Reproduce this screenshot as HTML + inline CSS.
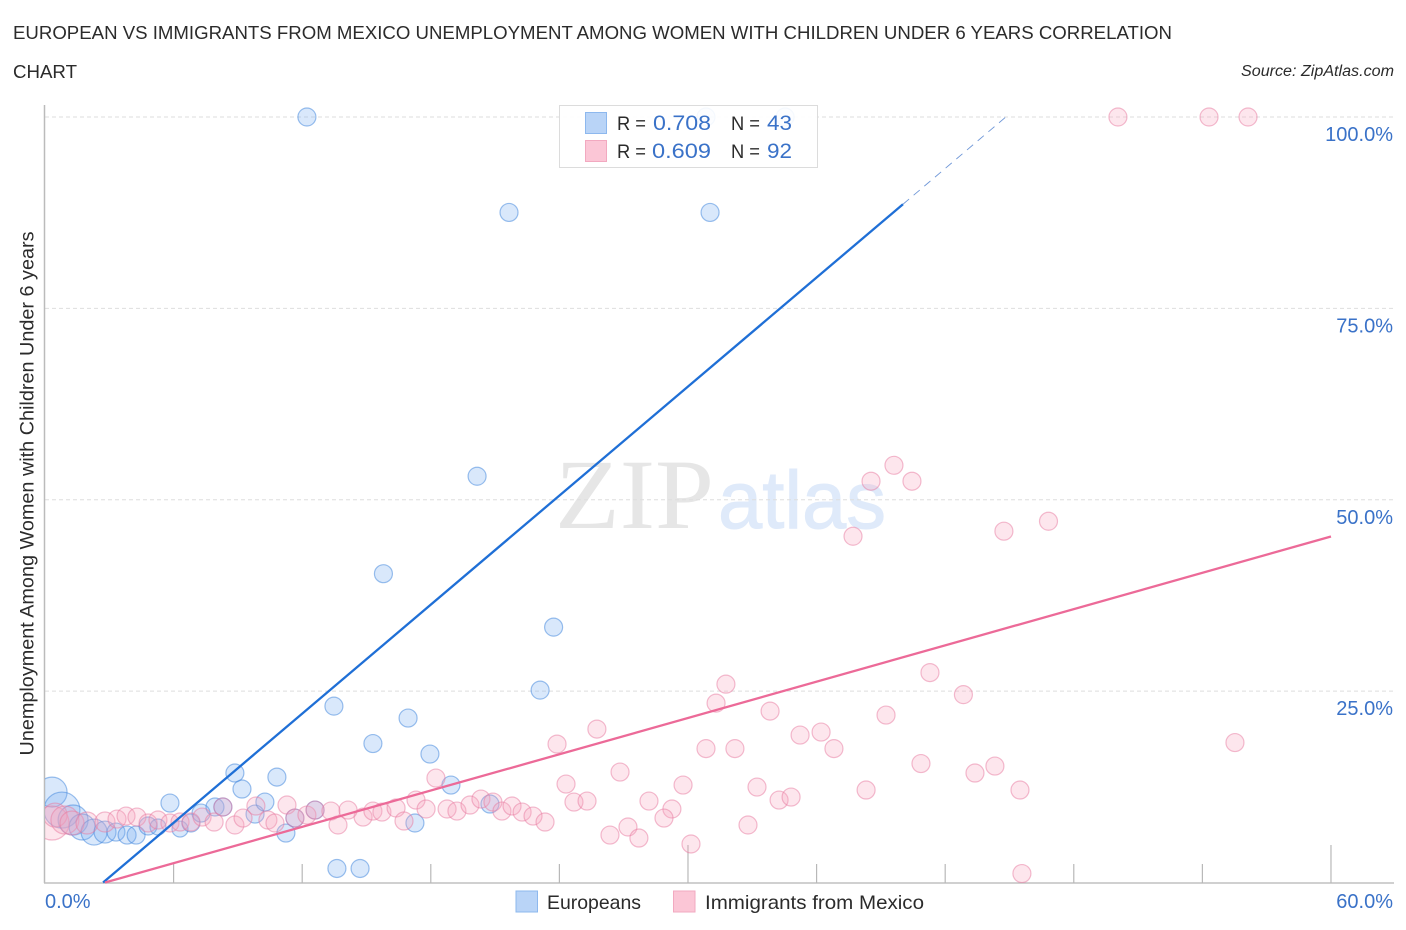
<!DOCTYPE html>
<html lang="en">
<head>
<meta charset="utf-8">
<title>European vs Immigrants from Mexico Unemployment Chart</title>
<style>
html,body{margin:0;padding:0;background:#fff;width:1406px;height:930px;overflow:hidden}
svg{display:block;font-family:"Liberation Sans",sans-serif}
</style>
</head>
<body>
<svg id="chart" width="1406" height="930" viewBox="0 0 1406 930" xmlns="http://www.w3.org/2000/svg">
  <defs>
    <clipPath id="plot-clip"><rect x="45" y="100" width="1349" height="783"/></clipPath>
  </defs>
  <rect x="0" y="0" width="1406" height="930" fill="#fff"/>
  <text x="13" y="39" font-size="18.5" fill="#2b2b2b" textLength="1159" lengthAdjust="spacingAndGlyphs">EUROPEAN VS IMMIGRANTS FROM MEXICO UNEMPLOYMENT AMONG WOMEN WITH CHILDREN UNDER 6 YEARS CORRELATION</text>
  <text x="13" y="78" font-size="18.5" fill="#2b2b2b" textLength="64" lengthAdjust="spacingAndGlyphs">CHART</text>
  <text x="1394" y="76" font-size="15.5" font-style="italic" fill="#2b2b2b" text-anchor="end" textLength="153" lengthAdjust="spacingAndGlyphs">Source: ZipAtlas.com</text>

  <g>
    <text x="555" y="528" font-family="'Liberation Serif',serif" font-size="100" fill="#e6e6e6" textLength="159" lengthAdjust="spacingAndGlyphs">ZIP</text>
    <text x="718" y="528" font-size="82" fill="#dfeafa" stroke="#dfeafa" stroke-width="1" textLength="168" lengthAdjust="spacingAndGlyphs">atlas</text>
  </g>

  <g id="grid"></g>
  <g id="axes"></g>
  <g clip-path="url(#plot-clip)">
    <g id="points-europeans"></g>
    <g id="points-mexico"></g>
  </g>
  <g id="trends"></g>
  <g id="labels"></g>

  <text transform="translate(33.5,493.5) rotate(-90)" font-size="19" fill="#2b2b2b" text-anchor="middle" textLength="524" lengthAdjust="spacingAndGlyphs">Unemployment Among Women with Children Under 6 years</text>

  <g>
    <rect x="559.5" y="105.5" width="258" height="62" fill="#fff" fill-opacity="0.9" stroke="#dcdcdc" stroke-width="1"/>
    <rect x="585.5" y="112.5" width="21" height="21" fill="#b9d4f7" stroke="#8db8ee" stroke-width="1"/>
    <rect x="585.5" y="140.5" width="21" height="21" fill="#fbc6d6" stroke="#f2a9c0" stroke-width="1"/>
    <text x="617" y="130" font-size="19.5" fill="#2b2b2b" textLength="29" lengthAdjust="spacingAndGlyphs">R =</text>
    <text x="653" y="130" font-size="21" fill="#3a72c8" textLength="58" lengthAdjust="spacingAndGlyphs">0.708</text>
    <text x="731" y="130" font-size="19.5" fill="#2b2b2b" textLength="29" lengthAdjust="spacingAndGlyphs">N =</text>
    <text x="767" y="130" font-size="21" fill="#3a72c8" textLength="25" lengthAdjust="spacingAndGlyphs">43</text>
    <text x="617" y="158" font-size="19.5" fill="#2b2b2b" textLength="29" lengthAdjust="spacingAndGlyphs">R =</text>
    <text x="652" y="158" font-size="21" fill="#3a72c8" textLength="59" lengthAdjust="spacingAndGlyphs">0.609</text>
    <text x="731" y="158" font-size="19.5" fill="#2b2b2b" textLength="29" lengthAdjust="spacingAndGlyphs">N =</text>
    <text x="767" y="158" font-size="21" fill="#3a72c8" textLength="25" lengthAdjust="spacingAndGlyphs">92</text>
  </g>

  <g>
    <g>
      <rect x="516" y="891" width="21.5" height="21" fill="#b9d4f7" stroke="#8db8ee" stroke-width="1"/>
      <text x="547" y="909" font-size="19.5" fill="#2b2b2b" textLength="94" lengthAdjust="spacingAndGlyphs">Europeans</text>
    </g>
    <g>
      <rect x="673.5" y="891" width="21.5" height="21" fill="#fbc6d6" stroke="#f2a9c0" stroke-width="1"/>
      <text x="705" y="909" font-size="19.5" fill="#2b2b2b" textLength="219" lengthAdjust="spacingAndGlyphs">Immigrants from Mexico</text>
    </g>
  </g>
</svg>
<script>
var europeansX = [12.22,30.84,34.53,21.65,31.03,20.16,15.79,23.73,23.10,13.48,16.94,15.30,17.96,18.94,20.76,17.26,14.70,13.62,0.33,0.79,1.31,1.73,2.29,2.80,3.31,3.83,4.25,4.81,5.27,5.83,6.30,6.81,7.28,7.93,8.30,8.86,9.19,9.80,10.26,10.82,11.24,11.66,12.60];
var europeansY = [100,100,100,87.53,87.53,53.07,40.34,33.36,25.13,23.04,21.48,18.15,16.78,12.73,10.25,7.77,1.83,1.83,11.81,9.46,8.16,7.25,6.59,6.59,6.59,6.20,6.20,7.38,7.25,10.38,6.98,7.77,9.07,9.86,9.86,14.30,12.21,8.94,10.51,13.77,6.46,8.42,9.46];
var europeansSize = [9,9,9,9,9,9,9,9,9,9,9,9,9,9,9,9,9,9,15,18,15,13,13,11,9,9,9,9,8,9,8,9,9,9,9,9,9,9,9,9,9,9,9];

var mexicoX = [50.06,54.31,56.13,39.61,38.54,40.45,37.70,44.74,46.82,41.29,42.85,31.77,31.31,33.83,39.24,25.75,36.21,35.23,23.89,30.84,32.19,36.81,55.52,40.87,44.32,43.39,26.83,24.31,29.77,33.22,45.49,38.31,34.25,34.81,24.68,25.29,28.18,29.25,28.88,26.36,27.20,27.71,30.14,32.80,45.58,14.84,15.30,15.72,16.38,16.75,17.31,17.78,18.24,18.76,19.22,19.83,20.34,20.90,21.32,21.79,22.26,22.77,23.33,0.33,0.47,0.93,1.26,1.96,2.80,3.36,3.78,4.29,4.81,5.27,5.83,6.30,6.81,7.33,7.89,8.30,8.86,9.24,9.84,10.40,10.73,11.29,11.66,12.22,12.60,13.34,13.67,14.14];
var mexicoY = [100,100,100,54.50,52.42,52.42,45.23,45.89,47.19,27.42,24.54,25.91,23.43,22.39,21.87,20.04,19.65,19.26,18.08,17.49,17.49,17.49,18.28,15.54,15.21,14.30,14.43,12.86,12.73,12.47,12.08,12.08,10.77,11.16,10.51,10.64,10.64,9.60,8.42,6.20,7.25,5.81,5.03,7.51,1.17,8.55,9.33,9.20,9.73,8.03,10.77,9.60,13.64,9.60,9.33,10.12,10.90,10.51,9.33,9.99,9.20,8.68,7.90,7.77,8.81,8.16,7.77,7.77,7.90,8.29,8.68,8.55,7.77,8.16,7.77,7.90,7.90,8.55,7.90,9.86,7.51,8.42,9.99,8.16,7.77,10.12,8.42,8.81,9.46,9.33,7.51,9.46];
var mexicoSize = [9,9,9,9,9,9,9,9,9,9,9,9,9,9,9,9,9,9,9,9,9,9,9,9,9,9,9,9,9,9,9,9,9,9,9,9,9,9,9,9,9,9,9,9,9,9,9,9,9,9,9,9,9,9,9,9,9,9,9,9,9,9,9,17,12,14,12,11,10,9,9,9,9,9,9,9,9,9,9,9,9,9,9,9,9,9,9,9,9,9,9,9];

var europeansTrendX = [2.71,40.03];
var europeansTrendY = [0,88.6];
var europeansExtrapolatedX = [40.03,44.83];
var europeansExtrapolatedY = [88.6,100];
var mexicoTrendX = [2.8,60];
var mexicoTrendY = [0,45.2];

var xTickValues = [0,6,12,18,24,30,36,42,48,54,60];
var yGridValues = [25,50,75,100];
var yTickLabels = ["25.0%","50.0%","75.0%","100.0%"];
var xTickLabels = ["0.0%","60.0%"];

var NS = 'http://www.w3.org/2000/svg';
function xScale(v){ return 45 + v * 21.433; }
function yScale(v){ return 882.5 - v * 7.655; }
function mk(tag, parent, attrs){
  var el = document.createElementNS(NS, tag);
  for (var k in attrs) el.setAttribute(k, attrs[k]);
  document.getElementById(parent).appendChild(el);
  return el;
}

yGridValues.forEach(function(v){
  var el = mk('line','grid',{x1:45,x2:1394,y1:yScale(v),y2:yScale(v),stroke:'#dedede','stroke-width':1,'stroke-dasharray':'4 3'});
  
  
});

var yAxis = mk('line','axes',{x1:44.5,x2:44.5,y1:105,y2:883,stroke:'#bbbbbb','stroke-width':1.5});


var xAxis = mk('line','axes',{x1:44,x2:1394,y1:883,y2:883,stroke:'#c0c0c0','stroke-width':1.5});


xTickValues.slice(1).forEach(function(v){
  var major = v % 30 === 0;
  var tick = mk('line','axes',{x1:xScale(v),x2:xScale(v),y1:major?845:864,y2:883,stroke:'#b8b8b8','stroke-width':1.2});
  
  
});

function drawPoints(group, xs, ys, sizes, fill, stroke){
  xs.forEach(function(x, i){
    var c = mk('circle', group, {cx:xScale(x), cy:yScale(ys[i]), r:sizes[i], fill:fill, 'fill-opacity':0.28, stroke:stroke, 'stroke-opacity':0.5, 'stroke-width':1.2});
    
    
  });
}
drawPoints('points-europeans', europeansX, europeansY, europeansSize, '#78aef0', '#3a82dc');
drawPoints('points-mexico', mexicoX, mexicoY, mexicoSize, '#f7a6c0', '#e8799f');

var t1 = mk('line','trends',{x1:xScale(europeansTrendX[0]),y1:yScale(europeansTrendY[0]),x2:xScale(europeansTrendX[1]),y2:yScale(europeansTrendY[1]),stroke:'#1f6fd6','stroke-width':2.3});


var t1b = mk('line','trends',{x1:xScale(europeansExtrapolatedX[0]),y1:yScale(europeansExtrapolatedY[0]),x2:xScale(europeansExtrapolatedX[1]),y2:yScale(europeansExtrapolatedY[1]),stroke:'#6f97d8','stroke-width':0.9,'stroke-dasharray':'8 6'});


var t2 = mk('line','trends',{x1:xScale(mexicoTrendX[0]),y1:yScale(mexicoTrendY[0]),x2:xScale(mexicoTrendX[1]),y2:yScale(mexicoTrendY[1]),stroke:'#ec6a98','stroke-width':2.3});



yGridValues.forEach(function(v, i){
  var t = mk('text','labels',{x:1393,y:yScale(v)+24,'font-size':20,fill:'#3a72c8','text-anchor':'end'});
  t.textContent = yTickLabels[i];
  
  
});
var xl0 = mk('text','labels',{x:45,y:908,'font-size':20,fill:'#3a72c8'});
xl0.textContent = xTickLabels[0];


var xl1 = mk('text','labels',{x:1393,y:908,'font-size':20,fill:'#3a72c8','text-anchor':'end'});
xl1.textContent = xTickLabels[1];


</script>
</body>
</html>
